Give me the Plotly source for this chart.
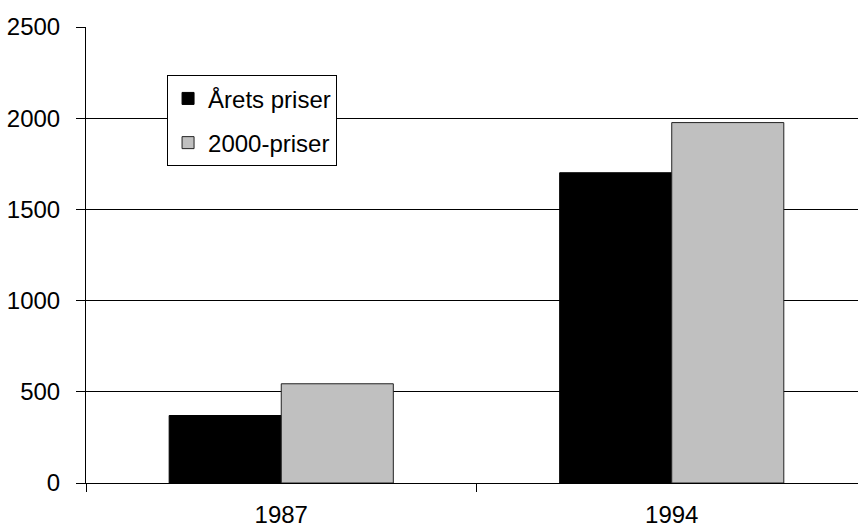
import plotly.graph_objects as go

years = ["1987", "1994"]
arets_priser = [370, 1701]
priser_2000 = [544, 1976]
y_ticks = [0, 500, 1000, 1500, 2000, 2500]

FONT = "Liberation Sans, Arial, sans-serif"

fig = go.Figure()
fig.add_trace(go.Bar(
    x=years, y=arets_priser, name="Årets priser", legendgroup="a",
    marker=dict(color="#000000", line=dict(color="#000000", width=1)),
))
fig.add_trace(go.Bar(
    x=years, y=priser_2000, name="2000-priser", legendgroup="b",
    marker=dict(color="#C0C0C0", line=dict(color="#222222", width=1)),
))

fig.update_layout(
    width=859, height=529,
    margin=dict(l=86, r=1, t=27, b=46),
    paper_bgcolor="white", plot_bgcolor="white",
    barmode="group", bargap=0.426, bargroupgap=0,
    font=dict(family=FONT, size=24, color="black"),
    showlegend=True,
    legend=dict(
        x=0.105, y=0.894, xanchor="left", yanchor="top",
        bgcolor="white", bordercolor="black", borderwidth=1,
        font=dict(family=FONT, size=24, color="black"),
        traceorder="grouped", tracegroupgap=10,
        itemwidth=30, entrywidth=150,
    ),
)
fig.update_xaxes(
    type="category", range=[-0.5, 1.477], automargin=False,
    showline=True, linecolor="black", linewidth=1,
    ticks="outside", tickson="boundaries", ticklen=8, tickcolor="black",
    showgrid=False, ticklabelstandoff=10,
)
fig.update_yaxes(
    range=[0, 2500], tickvals=y_ticks, automargin=False,
    showline=True, linecolor="black", linewidth=1,
    ticks="outside", ticklen=9, tickcolor="black",
    showgrid=True, gridcolor="black", gridwidth=1,
    zeroline=False, ticklabelstandoff=11,
)

fig.write_html(
    "out.html",
    config={"displayModeBar": False},
    post_script="document.body.style.margin='0';document.body.style.overflow='hidden';",
)
